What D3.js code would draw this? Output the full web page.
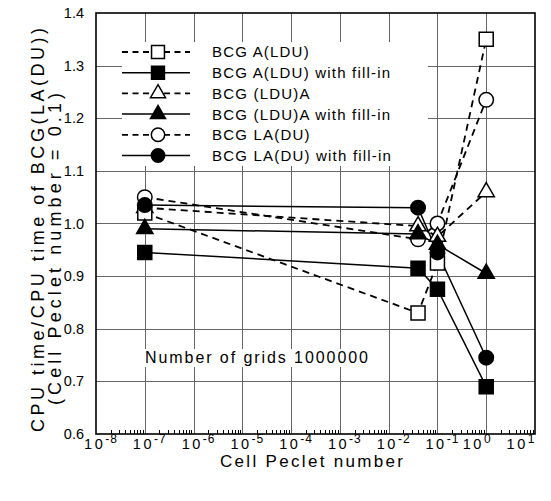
<!DOCTYPE html>
<html>
<head>
<meta charset="utf-8">
<script src="https://cdn.jsdelivr.net/npm/d3@7"></script>
<style>
  body { margin: 0; background: #fff; }
  text { font-family: "Liberation Sans", Arial, Helvetica, sans-serif; fill: #000; }
</style>
</head>
<body>
<svg id="chart" width="551" height="501"></svg>
<script>
// data
const pecletValues = [1e-7, 0.04, 0.1, 1];
const seriesLabels = [
  "BCG  A(LDU)",
  "BCG  A(LDU) with fill-in",
  "BCG  (LDU)A",
  "BCG  (LDU)A with fill-in",
  "BCG  LA(DU)",
  "BCG  LA(DU) with fill-in"
];
const bcgALDU      = [1.02, 0.83, 0.925, 1.35];
const bcgALDUFill  = [0.945, 0.915, 0.875, 0.69];
const bcgLDUA      = [1.03, 0.995, 0.975, 1.06];
const bcgLDUAFill  = [0.99, 0.98, 0.96, 0.905];
const bcgLADU      = [1.05, 0.97, 1.0, 1.235];
const bcgLADUFill  = [1.035, 1.03, 0.945, 0.745];
const yTicks = [0.6, 0.7, 0.8, 0.9, 1.0, 1.1, 1.2, 1.3, 1.4];
const xTickExponents = [-8, -7, -6, -5, -4, -3, -2, -1, 0, 1];
const noteText = "Number of grids 1000000";

const seriesValues = [bcgALDU, bcgALDUFill, bcgLDUA, bcgLDUAFill, bcgLADU, bcgLADUFill];

const svg = d3.select('#chart');
const plotL = 96, plotR = 535, plotT = 13, plotB = 434;

const x = d3.scaleLog().domain([1e-8, 10]).range([plotL, plotR]);
const y = d3.scaleLinear().domain([0.6, 1.4]).range([plotB, plotT]);
const xMajor = xTickExponents.map(e => Math.pow(10, e));
const crisp = v => Math.round(v) + 0.5;

// grid lines (solid grey stands in for the dotted print grid)
const gridG = svg.append('g');
gridG.selectAll('line.vx').data(xMajor.slice(1, -1)).enter().append('line')
  .attr('class', 'vx')
  .attr('x1', d => crisp(x(d))).attr('x2', d => crisp(x(d)))
  .attr('y1', plotT).attr('y2', plotB)
  .style('stroke', '#666').style('stroke-width', '1px');
gridG.selectAll('line.hy').data(yTicks.slice(1, -1)).enter().append('line')
  .attr('class', 'hy')
  .attr('y1', d => crisp(y(d))).attr('y2', d => crisp(y(d)))
  .attr('x1', plotL).attr('x2', plotR)
  .style('stroke', '#666').style('stroke-width', '1px');

// minor ticks along the bottom
const minorTicks = [];
xTickExponents.slice(0, -1).forEach(e => {
  for (let k = 2; k <= 9; k++) minorTicks.push(k * Math.pow(10, e));
});
svg.append('g').selectAll('line').data(minorTicks).enter().append('line')
  .attr('x1', d => crisp(x(d))).attr('x2', d => crisp(x(d)))
  .attr('y1', plotB).attr('y2', plotB - 4)
  .attr('stroke', '#000').attr('stroke-width', 1);

// white patches behind legend and note
svg.append('rect').attr('x', 122).attr('y', 42).attr('width', 306).attr('height', 124).attr('fill', '#fff');
svg.append('rect').attr('x', 143).attr('y', 349).attr('width', 229).attr('height', 18).attr('fill', '#fff');

svg.append('text').attr('x', 145).attr('y', 363)
  .attr('font-size', 16).attr('textLength', 223).attr('lengthAdjust', 'spacing')
  .text(noteText);

// frame
svg.append('rect').attr('x', plotL).attr('y', plotT).attr('width', plotR - plotL).attr('height', plotB - plotT)
  .attr('fill', 'none').attr('stroke', '#000').attr('stroke-width', 1.6);

// axis labels
svg.append('g').selectAll('text').data(yTicks).enter().append('text')
  .attr('x', 84).attr('y', d => y(d)).attr('dy', '0.35em')
  .attr('text-anchor', 'end').attr('font-size', 14.5)
  .text(d => d3.format('.1f')(d));

const xl = svg.append('g').selectAll('text').data(xTickExponents).enter().append('text')
  .attr('x', d => x(Math.pow(10, d)) + (d < 0 ? 5 : d === 0 ? -9 : -14))
  .attr('y', 449).attr('text-anchor', 'middle').attr('font-size', 14.5);
xl.append('tspan').attr('letter-spacing', 2.5).text('10');
xl.append('tspan').attr('font-size', 12).attr('letter-spacing', 1).attr('dy', -6).text(d => String(d));

svg.append('text').attr('x', 220).attr('y', 467).attr('font-size', 17)
  .attr('textLength', 183).attr('lengthAdjust', 'spacing').text('Cell Peclet number');

svg.append('text').attr('transform', 'translate(44,230) rotate(-90)')
  .attr('text-anchor', 'middle').attr('font-size', 18)
  .attr('textLength', 404).attr('lengthAdjust', 'spacing')
  .text('CPU time/CPU time of BCG(LA(DU))');
svg.append('text').attr('transform', 'translate(61,249) rotate(-90)')
  .attr('text-anchor', 'middle').attr('font-size', 18)
  .attr('textLength', 312).attr('lengthAdjust', 'spacing')
  .text('(Cell Peclet number = 0.1)');

// series
const symbolTypes = [d3.symbolSquare, d3.symbolTriangle, d3.symbolCircle];
const symbolSizes = [196, 115, 165];
const styleOf = i => ({
  type: symbolTypes[Math.floor(i / 2)],
  size: symbolSizes[Math.floor(i / 2)],
  filled: i % 2 === 1
});

const lineGen = d3.line().x(d => x(d[0])).y(d => y(d[1]));

const plot = svg.append('g');
seriesValues.forEach((vals, i) => {
  const pts = vals.map((v, j) => [pecletValues[j], v]);
  plot.append('path').datum(pts).attr('d', lineGen)
    .attr('fill', 'none').attr('stroke', '#000')
    .attr('stroke-width', styleOf(i).filled ? 1.5 : 1.8)
    .attr('stroke-dasharray', styleOf(i).filled ? null : '7,5');
});
// open markers first, filled ones on top
const drawOrder = [4, 2, 0, 5, 3, 1];
drawOrder.forEach(i => {
  const s = styleOf(i);
  const pts = seriesValues[i].map((v, j) => [pecletValues[j], v]);
  plot.append('g').selectAll('path').data(pts).enter().append('path')
    .attr('transform', d => `translate(${x(d[0])},${y(d[1])})`)
    .attr('d', d3.symbol().type(s.type).size(s.size))
    .attr('fill', s.filled ? '#000' : '#fff')
    .attr('stroke', '#000').attr('stroke-width', 1.5);
});

// legend
const legend = svg.append('g');
seriesLabels.forEach((label, i) => {
  const s = styleOf(i);
  const ly = 52 + i * 20.7;
  legend.append('line').attr('x1', 122).attr('x2', 190).attr('y1', ly).attr('y2', ly)
    .attr('stroke', '#000').attr('stroke-width', s.filled ? 1.5 : 1.8)
    .attr('stroke-dasharray', s.filled ? null : '6,4.5');
  legend.append('path').attr('transform', `translate(158,${ly})`)
    .attr('d', d3.symbol().type(s.type).size(s.size * 0.85))
    .attr('fill', s.filled ? '#000' : '#fff')
    .attr('stroke', '#000').attr('stroke-width', 1.5);
  legend.append('text').attr('x', 212).attr('y', ly).attr('dy', '0.36em')
    .attr('font-size', 15).attr('letter-spacing', 1.2).text(label);
});
</script>
</body>
</html>
